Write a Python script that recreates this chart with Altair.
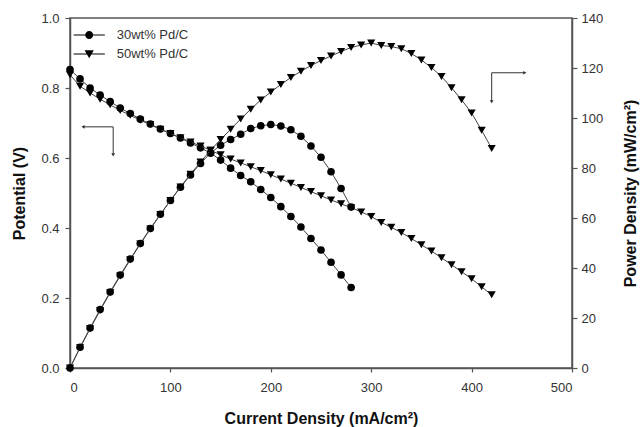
import altair as alt
import pandas as pd

series_names = ["30wt% Pd/C", "50wt% Pd/C"]

current_30 = [0, 10, 20, 30, 40, 50, 60, 70, 80, 90, 100, 110, 120, 130, 140,
              150, 160, 170, 180, 190, 200, 210, 220, 230, 240, 250, 260, 270, 280]
potential_30 = [0.853, 0.826, 0.800, 0.780, 0.761, 0.743, 0.727, 0.711, 0.697, 0.683,
                0.670, 0.657, 0.643, 0.629, 0.614, 0.594, 0.571, 0.550, 0.532, 0.510,
                0.487, 0.461, 0.433, 0.403, 0.370, 0.337, 0.302, 0.266, 0.230]
power_30 = [0, 8.3, 16.0, 23.4, 30.4, 37.2, 43.6, 49.8, 55.8, 61.5, 67.0, 72.3, 77.2,
            81.8, 86.0, 89.1, 91.4, 93.5, 95.8, 96.9, 97.4, 96.8, 95.3, 92.7, 88.8,
            84.3, 78.5, 71.8, 64.4]

current_50 = [0, 10, 20, 30, 40, 50, 60, 70, 80, 90, 100, 110, 120, 130, 140, 150,
              160, 170, 180, 190, 200, 210, 220, 230, 240, 250, 260, 270, 280, 290,
              300, 310, 320, 330, 340, 350, 360, 370, 380, 390, 400, 410, 420]
potential_50 = [0.838, 0.805, 0.786, 0.768, 0.752, 0.736, 0.722, 0.708, 0.695, 0.682,
                0.670, 0.658, 0.646, 0.634, 0.622, 0.609, 0.597, 0.586, 0.575, 0.564,
                0.552, 0.540, 0.528, 0.516, 0.504, 0.492, 0.480, 0.469, 0.458, 0.446,
                0.433, 0.416, 0.402, 0.387, 0.370, 0.352, 0.334, 0.315, 0.295, 0.275,
                0.255, 0.232, 0.209]
power_50 = [0, 8.1, 15.7, 23.0, 30.1, 36.8, 43.3, 49.6, 55.6, 61.4, 67.0, 72.4, 77.5,
            82.4, 87.1, 91.4, 95.5, 99.6, 103.5, 107.2, 110.4, 113.4, 116.2, 118.7,
            121.0, 123.0, 124.8, 126.6, 128.2, 129.2, 130.0, 129.0, 128.6, 127.7,
            125.8, 123.2, 120.2, 116.6, 112.1, 107.3, 102.0, 95.1, 87.8]

x_ticks = [0, 100, 200, 300, 400, 500]
v_ticks = [0.0, 0.2, 0.4, 0.6, 0.8, 1.0]
p_ticks = [0, 20, 40, 60, 80, 100, 120, 140]

# annotation arrows (data units)
arrow_v_x = [13, 43]        # current
arrow_v_y = [0.689, 0.609]  # potential
arrow_p_x = [420, 453]
arrow_p_y = [118.1, 106.5]

FONT = "Liberation Sans"
INK = "#333333"
AXC = "#555555"

df30 = pd.DataFrame({"I": current_30, "V": potential_30, "P": power_30, "series": series_names[0]})
df50 = pd.DataFrame({"I": current_50, "V": potential_50, "P": power_50, "series": series_names[1]})

xs = alt.Scale(domain=[0, 500], nice=False, zero=False)
vs = alt.Scale(domain=[0, 1], nice=False)
ps = alt.Scale(domain=[0, 140], nice=False)

x_axis = alt.Axis(values=x_ticks, title="Current Density (mA/cm²)", grid=False,
                  tickSize=4, labelPadding=9, titleY=50, titleX=251,
                  titleBaseline="middle", titleAlign="center")
v_axis = alt.Axis(values=v_ticks, format=".1f", title="Potential (V)", grid=False,
                  tickSize=5, labelPadding=6, titleX=-51, titleY=175, titleAngle=-90,
                  titleAlign="center", titleBaseline="middle")
p_axis = alt.Axis(values=p_ticks, title="Power Density (mW/cm²)", grid=False,
                  orient="right", tickSize=5, labelPadding=4, titleX=58, titleY=175,
                  titleAngle=-90, titleAlign="center", titleBaseline="middle")

X = alt.X("I:Q", scale=xs, axis=x_axis)


def curve(df, ycol, scale, axis, shape, size):
    base = alt.Chart(df)
    y = alt.Y(f"{ycol}:Q", scale=scale, axis=axis)
    line = base.mark_line(color="#444444", strokeWidth=1).encode(x=X, y=y)
    pts = base.mark_point(shape=shape, filled=True, color="black", size=size,
                          opacity=1).encode(x=X, y=y)
    return [line, pts]


left_layers = (curve(df30, "V", vs, v_axis, "circle", 58)
               + curve(df50, "V", vs, v_axis, "triangle-down", 66))
right_layers = (curve(df30, "P", ps, p_axis, "circle", 58)
                + curve(df50, "P", ps, p_axis, "triangle-down", 66))

# arrows
av = pd.DataFrame({"x1": [arrow_v_x[0]], "x2": [arrow_v_x[1]], "y1": [arrow_v_y[0]], "y2": [arrow_v_y[1]]})
ap = pd.DataFrame({"x1": [arrow_p_x[0]], "x2": [arrow_p_x[1]], "y1": [arrow_p_y[0]], "y2": [arrow_p_y[1]]})

arrow_v_h = alt.Chart(av).mark_rule(color=INK, strokeWidth=1).encode(
    x=alt.X("x1:Q", scale=xs), x2="x2:Q", y=alt.Y("y1:Q", scale=vs))
arrow_v_vert = alt.Chart(av).mark_rule(color=INK, strokeWidth=1).encode(
    x=alt.X("x2:Q", scale=xs), y=alt.Y("y1:Q", scale=vs), y2="y2:Q")
arrow_v_head1 = alt.Chart(av).mark_point(shape="triangle-left", filled=True, color=INK, size=14, opacity=1).encode(
    x=alt.X("x1:Q", scale=xs), y=alt.Y("y1:Q", scale=vs))
arrow_v_head2 = alt.Chart(av).mark_point(shape="triangle-down", filled=True, color=INK, size=14, opacity=1).encode(
    x=alt.X("x2:Q", scale=xs), y=alt.Y("y2:Q", scale=vs))

arrow_p_h = alt.Chart(ap).mark_rule(color=INK, strokeWidth=1).encode(
    x=alt.X("x1:Q", scale=xs), x2="x2:Q", y=alt.Y("y1:Q", scale=ps))
arrow_p_vert = alt.Chart(ap).mark_rule(color=INK, strokeWidth=1).encode(
    x=alt.X("x1:Q", scale=xs), y=alt.Y("y1:Q", scale=ps), y2="y2:Q")
arrow_p_head1 = alt.Chart(ap).mark_point(shape="triangle-right", filled=True, color=INK, size=14, opacity=1).encode(
    x=alt.X("x2:Q", scale=xs), y=alt.Y("y1:Q", scale=ps))
arrow_p_head2 = alt.Chart(ap).mark_point(shape="triangle-down", filled=True, color=INK, size=14, opacity=1).encode(
    x=alt.X("x1:Q", scale=xs), y=alt.Y("y2:Q", scale=ps))

# legend-only layer (no marks drawn); line segment drawn as a thin filled bar
circle_path = ("M-3.9,-0.13L3.9,-0.13L3.9,0.13L-3.9,0.13Z"
               "M1,0A1,1,0,1,1,-1,0A1,1,0,1,1,1,0Z")
tri_path = ("M-3.9,-0.13L3.9,-0.13L3.9,0.13L-3.9,0.13Z"
            "M-1.15,-0.95L1.15,-0.95L0,1.05Z")
legend_df = pd.DataFrame({"series": series_names})
legend_layer = alt.Chart(legend_df).transform_filter("false").mark_point(
    filled=True, fill="black", opacity=1
).encode(
    shape=alt.Shape("series:N",
                    scale=alt.Scale(domain=series_names, range=[circle_path, tri_path]),
                    legend=alt.Legend(orient="none", legendX=12.7, legendY=10.5, title=None,
                                      labelFont=FONT, labelFontSize=13, labelColor=INK,
                                      symbolSize=64, symbolFillColor="black",
                                      symbolStrokeWidth=0,
                                      labelOffset=21, rowPadding=5, padding=0))
)

left = alt.layer(*left_layers, arrow_v_h, arrow_v_vert, arrow_v_head1, arrow_v_head2, legend_layer)
right = alt.layer(*right_layers, arrow_p_h, arrow_p_vert, arrow_p_head1, arrow_p_head2)

chart = alt.layer(left, right).resolve_scale(y="independent").properties(
    width=502, height=350,
    padding={"left": 70, "top": 18, "right": 68, "bottom": 59},
    autosize=alt.AutoSizeParams(type="none"),
    background="white",
).configure_view(stroke=AXC, strokeWidth=1.5).configure_axis(
    labelFont=FONT, labelFontSize=13, labelColor=INK,
    titleFont=FONT, titleFontSize=16, titleFontWeight="bold", titleColor="#111111",
    domainColor=AXC, domainWidth=1.5, tickColor=AXC, tickWidth=1.2,
)

chart.save("out.html", embed_options={"renderer": "svg", "actions": False})
